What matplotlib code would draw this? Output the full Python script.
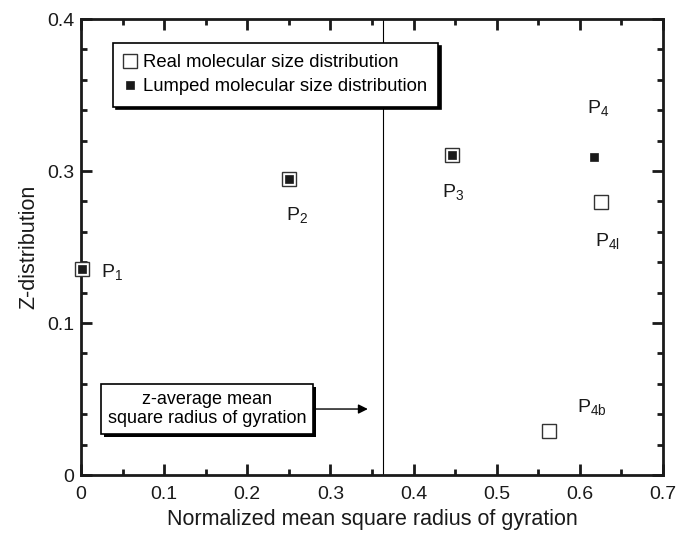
import matplotlib
matplotlib.use("Agg")
import matplotlib.pyplot as plt
from matplotlib import patheffects as pe

plt.rcParams['font.family'] = ['Liberation Sans', 'DejaVu Sans']
plt.rcParams['mathtext.fontset'] = 'custom'
plt.rcParams['mathtext.rm'] = 'Liberation Sans'
plt.rcParams['mathtext.it'] = 'Liberation Sans'

# Data (y in axis position units; tick labels as printed in the reference)
real_x = [0.001, 0.250, 0.4465, 0.626, 0.563]
real_y = [0.1355, 0.1947, 0.2105, 0.1796, 0.029]
lumped_x = [0.001, 0.250, 0.4465, 0.617]
lumped_y = [0.1355, 0.1947, 0.2105, 0.2092]
point_labels = ["P$_\\mathrm{1}$", "P$_\\mathrm{2}$", "P$_\\mathrm{3}$", "P$_\\mathrm{4}$",
                "P$_\\mathrm{4l}$", "P$_\\mathrm{4b}$"]
label_x = [0.024, 0.260, 0.4477, 0.622, 0.633, 0.615]
label_y = [0.1336, 0.171, 0.186, 0.2414, 0.154, 0.0447]
label_ha = ['left', 'center', 'center', 'center', 'center', 'center']
xticks = [0, 0.1, 0.2, 0.3, 0.4, 0.5, 0.6, 0.7]
xticklabels = ["0", "0.1", "0.2", "0.3", "0.4", "0.5", "0.6", "0.7"]
yticks = [0, 0.1, 0.2, 0.3]
yticklabels = ["0", "0.1", "0.3", "0.4"]
zavg_x = 0.3634

fig = plt.figure(figsize=(6.88, 5.33), dpi=100)
ax = fig.add_axes([81/688, 1-475/533, (663-81)/688, (475-19)/533])

ax.plot(real_x, real_y, linestyle='none', marker='s', ms=10.5, mfc='white',
        mec='#333333', mew=1.0, label='Real molecular size distribution', zorder=3, clip_on=False)
ax.plot(lumped_x, lumped_y, linestyle='none', marker='s', ms=5.5, mfc='#1a1a1a',
        mec='#1a1a1a', mew=0.5, label='Lumped molecular size distribution', zorder=4, clip_on=False)

for t, x, y, ha in zip(point_labels, label_x, label_y, label_ha):
    ax.text(x, y, t, fontsize=14, ha=ha, va='center', color='#1a1a1a')

ax.axvline(zavg_x, color='black', lw=0.8, zorder=1)

ax.set_xlim(0, 0.7)
ax.set_ylim(0, 0.3)
ax.set_xticks(xticks)
ax.set_xticklabels(xticklabels)
ax.set_yticks(yticks)
ax.set_yticklabels(yticklabels)
ax.set_xticks([0.05, 0.15, 0.25, 0.35, 0.45, 0.55, 0.65], minor=True)
ax.set_yticks([i*0.02 for i in range(16) if i % 5 != 0], minor=True)
ax.tick_params(which='both', direction='in', top=True, right=True, width=2, labelsize=14,
               colors='#1a1a1a')
ax.tick_params(which='major', length=8)
ax.tick_params(axis='x', which='major', pad=8)
ax.tick_params(axis='y', which='major', pad=5)
ax.tick_params(which='minor', length=4.5)
for s in ax.spines.values():
    s.set_linewidth(2)
    s.set_color('#1a1a1a')

ax.set_xlabel("Normalized mean square radius of gyration", fontsize=15.5, labelpad=4, color='#1a1a1a')
ax.set_ylabel("Z-distribution", fontsize=15.5, labelpad=5, color='#1a1a1a')

leg = ax.legend(loc='upper left', bbox_to_anchor=(113/688, 1-43/533), bbox_transform=fig.transFigure,
                borderaxespad=0, fontsize=13.3, frameon=True, fancybox=False,
                shadow={'color': 'black', 'alpha': 1}, edgecolor='black', framealpha=1,
                handlelength=0.63, handletextpad=0.4, borderpad=0.6, labelspacing=0.4)
leg.get_frame().set_linewidth(1.2)

txt = ax.annotate("z-average mean\nsquare radius of gyration", xy=(0.345, 0.0434), xycoords='data',
                  xytext=(207/688, 1-409/533), textcoords='figure fraction',
                  ha='center', va='center', fontsize=13.0, linespacing=1.2,
                  bbox=dict(boxstyle='square,pad=0.38', fc='white', ec='black', lw=1.2),
                  arrowprops=dict(arrowstyle='-|>', color='black', lw=1.0, mutation_scale=14,
                                  shrinkA=0, shrinkB=0))
txt.get_bbox_patch().set_path_effects([pe.SimplePatchShadow(offset=(2, -2), shadow_rgbFace='black', alpha=1),
                                       pe.Normal()])

fig.savefig("out.png", dpi=100)
